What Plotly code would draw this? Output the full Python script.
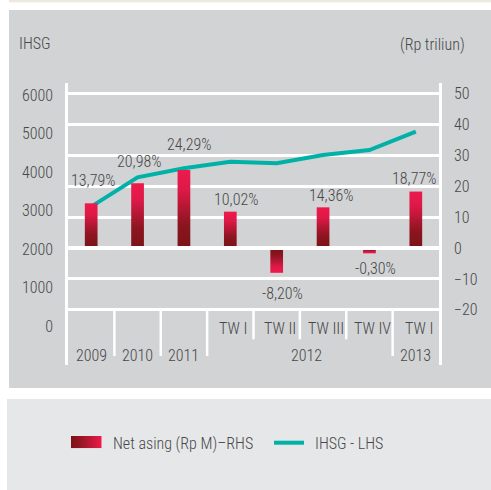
import plotly.graph_objects as go

# ---------------- data ----------------
quarters = ["", "", "", "TW I", "TW II", "TW III", "TW IV", "TW I"]
years = ["2009", "2010", "2011", "2012", "2012", "2012", "2012", "2013"]
net_asing = [14.5, 21.0, 25.3, 11.8, -8.0, 13.2, -1.7, 18.3]          # Rp triliun (RHS)
ihsg = [3101, 3862, 4096, 4268, 4226, 4442, 4571, 5047]              # IHSG (LHS)
ihsg_return = ["13,79%", "20,98%", "24,29%", "10,02%", "-8,20%", "14,36%", "-0,30%", "18,77%"]
left_ticks = [0, 1000, 2000, 3000, 4000, 5000, 6000]
right_ticks = [-20, -10, 0, 10, 20, 30, 40, 50]

# ---------------- style ----------------
W, H = 491, 490
FONT = "Roboto Condensed, DejaVu Sans Condensed, Roboto, sans-serif"
TXT = "#47474a"
FS = 16
FW = 300
TEAL = "#00b1a7"
DARK = "#7a1316"
BRIGHT = "#ee1a4c"
GRAD = [[0, DARK], [0.3, "#8c1520"], [0.75, "#de1948"], [1, BRIGHT]]
GRAD_NEG = [[0, BRIGHT], [0.25, "#de1948"], [0.7, "#8c1520"], [1, DARK]]
label_shift = [(2, 23), (1, 22), (5, 25), (6, 12), (6, -21), (8, 12), (6, -15), (-2, 13)]
bar_half = 0.137

def px(x):
    return x / W

def py(y):
    return 1 - y / H

PLOT_L, PLOT_R, PLOT_T, PLOT_B = 68, 439, 83, 365
GRID_BOTTOM = 310

fig = go.Figure()

n = len(net_asing)
idx = list(range(n))

for i, v in enumerate(net_asing):
    fig.add_trace(go.Scatter(
        x=[i - bar_half, i + bar_half, i + bar_half, i - bar_half, i - bar_half],
        y=[0, 0, v, v, 0],
        yaxis="y2", mode="lines", line=dict(width=0),
        fill="toself",
        fillgradient=dict(type="vertical", colorscale=GRAD if v >= 0 else GRAD_NEG),
        hoverinfo="skip", showlegend=False,
    ))

fig.add_trace(go.Scatter(
    x=idx, y=ihsg, yaxis="y", mode="lines",
    line=dict(color=TEAL, width=4), showlegend=False, hoverinfo="skip",
))

fig.add_trace(go.Scatter(
    x=[0, 1, 1, 0, 0], y=[0, 0, 1, 1, 0], xaxis="x3", yaxis="y3",
    mode="lines", line=dict(width=0), fill="toself",
    fillgradient=dict(type="horizontal", colorscale=[[0, DARK], [0.35, "#9a1526"], [1, BRIGHT]]),
    hoverinfo="skip", showlegend=False,
))

r_top = (248.1 - PLOT_T) / 3.089
r_bot = (248.1 - PLOT_B) / 3.089
l_top = (326 - PLOT_T) / 0.0385
l_bot = (326 - PLOT_B) / 0.0385

shapes = [
    dict(type="rect", xref="paper", yref="paper", x0=px(9), x1=px(W), y0=py(0), y1=py(2.3),
         fillcolor="#efe8dc", line=dict(width=0), layer="below"),
    dict(type="rect", xref="paper", yref="paper", x0=px(9), x1=px(W), y0=py(10), y1=py(388),
         fillcolor="#d1d3d4", line=dict(width=0), layer="below"),
    dict(type="rect", xref="paper", yref="paper", x0=px(7), x1=px(W), y0=py(399), y1=py(H),
         fillcolor="#e6e7e8", line=dict(width=0), layer="below"),
    dict(type="line", xref="x", yref="y2", x0=-0.5, x1=n - 0.5, y0=0, y1=0,
         line=dict(color="white", width=4), layer="above"),
    dict(type="line", xref="paper", yref="paper", x0=px(274), x1=px(304), y0=py(442.7), y1=py(442.7),
         line=dict(color=TEAL, width=4)),
]

for i in range(n - 1):
    long_sep = years[i] != years[i + 1]
    shapes.append(dict(type="line", xref="x", yref="paper", x0=i + 0.5, x1=i + 0.5,
                       y0=py(GRID_BOTTOM), y1=py(356 if long_sep else 339.3),
                       line=dict(color="white", width=2.5)))

def tfont():
    return dict(family=FONT, size=FS, color=TXT, weight=FW)

def txt(**kw):
    d = dict(showarrow=False, xanchor="center", yanchor="middle", font=tfont())
    d.update(kw)
    return d

annotations = []
for i, q in enumerate(quarters):
    if q:
        annotations.append(txt(x=i, y=py(328), xref="x", yref="paper", text=q, xshift=3))
groups = []
for i, yv in enumerate(years):
    if groups and groups[-1][0] == yv:
        groups[-1][1].append(i)
    else:
        groups.append([yv, [i]])
for yv, members in groups:
    annotations.append(txt(x=sum(members) / len(members), y=py(355), xref="x", yref="paper",
                           text=yv, xshift=(7 if len(members) > 1 else 0)))
for i, (t, v) in enumerate(zip(ihsg_return, net_asing)):
    dx, dy = label_shift[i]
    annotations.append(txt(x=i, y=v, xref="x", yref="y2", text=t, xshift=dx, yshift=dy))
annotations.append(txt(x=px(17), y=py(44), xref="paper", yref="paper", text="IHSG", xanchor="left"))
annotations.append(txt(x=px(467), y=py(45), xref="paper", yref="paper", text="(Rp triliun)", xanchor="right"))
annotations.append(txt(x=px(111), y=py(443), xref="paper", yref="paper", text="Net asing (Rp M)\u2013RHS",
                       xanchor="left"))
annotations.append(txt(x=px(313), y=py(443), xref="paper", yref="paper", text="IHSG - LHS", xanchor="left"))

fig.update_layout(
    width=W, height=H, autosize=False,
    margin=dict(l=0, r=0, t=0, b=0, pad=0),
    paper_bgcolor="white", plot_bgcolor="rgba(0,0,0,0)",
    font=tfont(),
    showlegend=False,
    xaxis=dict(domain=[px(PLOT_L), px(PLOT_R)], range=[-0.5, n - 0.5], showticklabels=False,
               showgrid=False, zeroline=False, showline=False, fixedrange=True),
    yaxis=dict(domain=[py(PLOT_B), py(PLOT_T)], range=[l_bot, l_top], tickvals=left_ticks,
               showgrid=False, zeroline=False, showline=True, linecolor="white", linewidth=2.5,
               ticks="outside", ticklen=9, tickcolor="rgba(0,0,0,0)",
               tickfont=tfont(), fixedrange=True),
    yaxis2=dict(overlaying="y", side="right", anchor="x", range=[r_bot, r_top], tickvals=right_ticks,
                showgrid=True, gridcolor="white", gridwidth=2.5, zeroline=False,
                showline=True, linecolor="white", linewidth=2.5,
                ticks="outside", ticklen=9, tickcolor="rgba(0,0,0,0)",
                tickfont=tfont(), fixedrange=True),
    xaxis3=dict(domain=[px(71), px(101.7)], range=[0, 1], visible=False, anchor="y3"),
    yaxis3=dict(domain=[py(448.3), py(436)], range=[0, 1], visible=False, anchor="x3"),
    shapes=shapes,
    annotations=annotations,
)

fig.write_html("out.html", config={"displayModeBar": False},
               post_script="document.body.style.margin='0';")
